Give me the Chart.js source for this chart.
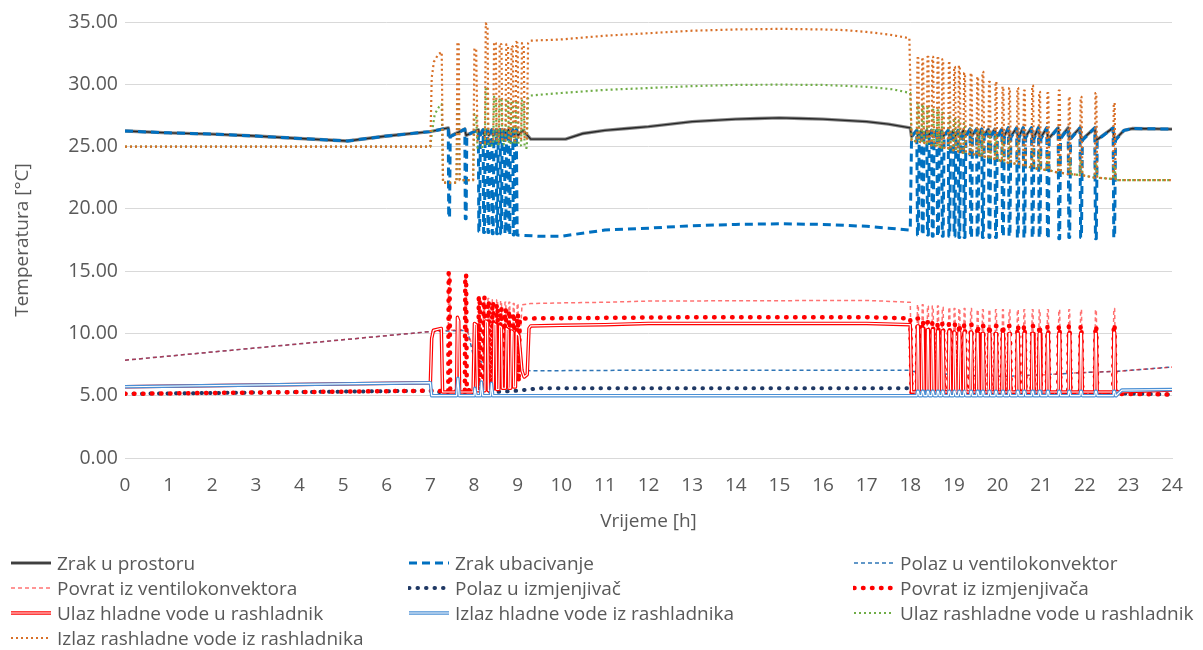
<!DOCTYPE html>
<html><head><meta charset="utf-8">
<script src="https://cdn.jsdelivr.net/npm/chart.js@4.4.1/dist/chart.umd.min.js"></script>
<style>
html,body{margin:0;padding:0;background:#fff;}
#wrap{position:relative;width:1203px;height:650px;font-family:"Open Sans",sans-serif;overflow:hidden;}
#cw{position:absolute;left:0;top:0;width:1203px;height:540px;}
#legend{position:absolute;left:0;top:0;width:1203px;height:650px;pointer-events:none;}
.li{position:absolute;display:flex;align-items:center;height:24px;color:#595959;font-size:19px;white-space:nowrap;}
.li svg{margin-right:5px;flex:none;}
</style></head><body>
<div id="wrap"><div id="cw"><canvas id="c"></canvas></div><div id="legend"></div></div>
<script>
// ---------------- DATA ----------------
const seriesNames = [
  'Zrak u prostoru','Zrak ubacivanje','Polaz u ventilokonvektor',
  'Povrat iz ventilokonvektora','Polaz u izmjenjivač','Povrat iz izmjenjivača',
  'Ulaz hladne vode u rashladnik','Izlaz hladne vode iz rashladnika','Ulaz rashladne vode u rashladnik',
  'Izlaz rashladne vode iz rashladnika'];
const xTicks = [0,1,2,3,4,5,6,7,8,9,10,11,12,13,14,15,16,17,18,19,20,21,22,23,24];
const yTicks = [0,5,10,15,20,25,30,35];

// night (0-7 h)
const roomAirNight = [[0,26.25],[1,26.1],[2,26.0],[3,25.85],[4,25.65],[5.1,25.45],[6,25.85],[7,26.2]];
// morning fan-coil pulses
const mornFC = [7.41,7.79,8.10,8.21,8.31,8.41,8.51,8.60,8.70,8.79,8.89,8.98];
const mornRoomTop = [26.5,26.4,26.35,26.35,26.35,26.35,26.35,26.35,26.35,26.35,26.35,26.35];
const mornRoomBot = [25.8,25.9,25.9,25.9,25.9,25.9,25.9,25.9,25.9,25.9,25.9,25.9];
const mornSupplyLow = [19.3,19.2,18.2,18.1,18.1,18.0,18.0,18.0,18.0,17.9,17.9,17.9];
const mornRetFCPeak = [14.85,14.7,12.95,12.9,12.8,12.7,12.7,12.6,12.5,12.5,12.4,12.4];
const mornRetFCBase = [10.25,10.3,7.6,7.4,7.3,7.2,7.2,7.1,7.1,7.0,7.0,7.0];
const mornRetHXPeak = [14.85,14.7,12.95,12.9,12.6,12.5,12.3,12.0,11.9,11.8,11.6,11.5];
const mornRetHXBase = [5.35,5.4,5.6,5.7,5.8,5.8,5.9,5.9,6.0,6.0,6.1,6.1];
// day plateau (compressor running)
const roomAirDay = [[9.12,26.3],[9.3,25.6],[10.1,25.6],[10.5,26.05],[11,26.3],[11.5,26.45],[12,26.6],[12.5,26.8],[13,27.0],[13.5,27.1],[14,27.2],[14.5,27.25],[15,27.3],[15.5,27.25],[16,27.2],[16.5,27.1],[17,27.0],[17.5,26.8],[18.0,26.5],[18.03,25.8]];
const supplyDay = [[9.5,17.8],[10.0,17.8],[10.3,17.95],[11,18.3],[12,18.45],[13,18.65],[14,18.75],[15,18.8],[16,18.75],[17,18.6],[17.5,18.45],[18.0,18.3],[18.03,25.8]];
const supFCPts = [[0,7.85],[7.0,10.15],[7.85,10.25],[8.0,8.0],[8.3,7.5],[8.6,7.3],[9.0,7.1],[9.3,7.0],[12,7.05],[18,7.05],[18.03,6.95]];
const retFCDay = [[9.1,12.3],[9.3,12.4],[10,12.45],[11,12.5],[12,12.6],[17,12.65],[18,12.5],[18.03,6.95]];
const supHXPts = [[0,5.15],[7,5.4],[7.05,5.3],[8.5,5.3],[9.0,5.4],[9.5,5.6],[18,5.6],[18.03,5.3],[22.7,5.2],[24,5.1]];
const retHXNight = [[0,5.15],[7,5.4]];
const retHXDay = [[9.05,11.2],[11,11.25],[13,11.3],[17,11.3],[18,11.2],[18.03,5.2]];
const chwInMorn = [[0,5.72],[7.0,6.05],[7.03,9.6],[7.07,10.25],[7.25,10.4],[7.28,5.3],[7.6,5.3],[7.62,11.3],[7.65,11.0],[7.67,5.3],[7.98,5.3],[8.01,10.8],[8.05,10.7],[8.08,5.4],[8.25,5.4],[8.27,11.0],[8.31,10.9],[8.33,5.4],[8.44,5.5],[8.46,10.8],[8.5,10.7],[8.52,5.5],[8.57,5.5],[8.59,10.6],[8.63,10.5],[8.65,5.6],[8.72,5.6],[8.74,10.4],[8.78,10.3],[8.8,5.6],[8.84,5.6],[8.86,10.2],[8.89,10.1],[8.91,5.7],[8.95,5.7],[8.97,10.1],[9.03,9.8],[9.1,7.0],[9.15,6.5],[9.22,6.7],[9.26,10.4],[9.3,10.6],[10,10.65],[11,10.7],[12,10.8],[17,10.8],[18,10.7],[18.03,5.3]];
const chwOutMorn = [[0,5.72],[7.0,6.05],[7.03,5.0],[7.6,5.0],[7.63,6.4],[7.66,5.0],[8.0,5.0],[8.02,5.6],[8.05,5.0],[8.15,5.0],[8.17,6.1],[8.2,5.0],[8.38,5.0],[8.4,6.0],[8.43,5.0],[9.3,5.0],[18,5.0]];
const condInMorn = [[0,25.0],[7.0,25.0],[7.03,26.0],[7.1,27.6],[7.2,28.2],[7.26,28.4],[7.29,22.1],[7.6,22.1],[7.62,28.6],[7.65,28.4],[7.67,22.3],[7.98,22.3],[8.01,27.6],[8.05,27.5],[8.08,24.9],[8.25,25.0],[8.27,29.8],[8.31,29.6],[8.33,25.1],[8.44,25.1],[8.46,29.0],[8.5,28.9],[8.52,25.2],[8.57,25.2],[8.59,28.9],[8.63,28.8],[8.65,25.2],[8.72,25.2],[8.74,28.8],[8.78,28.7],[8.8,25.2],[8.84,25.2],[8.86,28.7],[8.89,28.6],[8.91,25.2],[8.95,25.2],[8.97,28.7],[9.0,28.6],[9.02,25.1],[9.08,25.1],[9.1,28.7],[9.14,28.6],[9.16,24.9],[9.21,24.9],[9.24,28.9],[9.3,29.1],[10,29.3],[11,29.55],[12,29.7],[13,29.85],[14,29.95],[15,29.97],[16,29.95],[17,29.8],[17.6,29.6],[18.0,29.3],[18.03,25.5]];
const condOutMorn = [[0,25.0],[7.0,25.0],[7.03,30.5],[7.08,31.8],[7.18,32.4],[7.26,32.6],[7.29,22.1],[7.6,22.1],[7.62,33.4],[7.65,33.2],[7.67,22.3],[7.98,22.3],[8.01,32.9],[8.05,32.8],[8.08,25.3],[8.25,25.3],[8.27,34.9],[8.31,34.6],[8.33,25.4],[8.44,25.4],[8.46,33.4],[8.5,33.3],[8.52,25.4],[8.57,25.4],[8.59,33.3],[8.63,33.2],[8.65,25.5],[8.72,25.5],[8.74,33.2],[8.78,33.1],[8.8,25.5],[8.84,25.5],[8.86,33.1],[8.89,33.0],[8.91,25.5],[8.95,25.5],[8.97,33.4],[9.0,33.3],[9.02,25.6],[9.08,25.6],[9.1,33.3],[9.14,33.2],[9.16,25.6],[9.21,25.6],[9.24,33.3],[9.3,33.5],[10,33.6],[11,33.9],[12,34.1],[13,34.3],[14,34.4],[15,34.45],[16,34.4],[16.5,34.35],[17,34.2],[17.5,34.0],[17.98,33.7],[18.03,25.5]];
// evening cycling (18-22.7 h)
const eveCycles = [18.15,18.26,18.38,18.49,18.61,18.72,18.87,18.99,19.10,19.22,19.37,19.52,19.64,19.79,19.94,20.10,20.25,20.44,20.59,20.78,20.94,21.13,21.39,21.62,21.89,22.23,22.65];
const eveRoomTop = [26.3,26.3,26.3,26.3,26.3,26.3,26.3,26.3,26.3,26.3,26.4,26.4,26.4,26.4,26.4,26.4,26.5,26.5,26.5,26.5,26.5,26.5,26.5,26.5,26.5,26.5,26.5];
const eveRoomBot = [25.8,25.8,25.8,25.8,25.8,25.8,25.8,25.8,25.8,25.8,25.8,25.8,25.8,25.8,25.7,25.7,25.7,25.7,25.7,25.6,25.6,25.6,25.6,25.6,25.5,25.5,25.5];
const eveSupplyLow = [17.9,17.9,17.9,17.8,17.8,17.8,17.8,17.8,17.7,17.7,17.7,17.7,17.7,17.7,17.7,17.8,17.8,17.7,17.7,17.7,17.7,17.6,17.6,17.7,17.7,17.6,17.7];
const eveFCBase = [6.95,6.9,6.85,6.8,6.78,6.75,6.72,6.7,6.68,6.65,6.62,6.6,6.6,6.58,6.56,6.55,6.57,6.6,6.62,6.65,6.67,6.7,6.75,6.8,6.85,6.9,6.95];
const eveSupFCDip = [5.6];
const eveRetFCPeak = [12.3,12.3,12.2,12.2,12.2,12.1,12.1,12.0,12.0,12.0,12.0,11.9,11.9,11.9,11.9,11.9,11.9,11.9,11.9,11.9,11.9,11.9,11.9,11.9,11.9,11.9,12.0];
const eveRetHXBase = [5.2];
const eveRetHXPeak = [11.2,11.0,10.9,10.9,10.8,10.8,10.8,10.7,10.7,10.7,10.7,10.6,10.6,10.6,10.6,10.6,10.6,10.6,10.6,10.6,10.6,10.6,10.6,10.6,10.6,10.6,10.7];
const eveChwInBase = [5.3];
const eveChwInPeak = [10.6,10.4,10.3,10.3,10.2,10.2,10.2,10.1,10.1,10.1,10.1,10.0,10.0,10.0,10.0,10.0,10.0,10.0,10.0,10.0,10.0,10.0,10.0,10.0,10.0,10.0,10.1];
const eveChwOutBase = [5.0];
const eveChwOutBump = [5.35];
const eveCondBase = [25.4,25.3,25.2,25.1,25.0,24.9,24.8,24.7,24.6,24.5,24.4,24.3,24.2,24.1,24.0,23.8,23.7,23.6,23.5,23.3,23.2,23.1,22.9,22.8,22.7,22.5,22.4];
const eveCondInPeak = [28.5,28.4,28.3,28.1,27.9,27.7,27.5,27.3,27.1,26.9,26.7,26.5,26.3,26.1,25.9,25.7,25.5,25.3,25.1,24.9,24.7,24.5,24.3,24.1,23.9,23.7,23.5];
const eveCondOutPeak = [32.1,32.0,32.2,32.2,32.1,32.0,31.7,31.4,31.5,30.9,30.9,30.6,31.0,30.2,30.2,29.8,29.7,29.7,29.5,29.9,29.4,29.3,29.5,29.0,29.0,29.3,28.5];
// after switch-off (22.7-24 h)
const roomAirTail = [[22.9,26.3],[23.1,26.45],[24,26.4]];
const fcTail = [[22.72,6.95],[24,7.3]];
const retHXTail = [[22.72,5.15],[24,5.1]];
const chwInTail = [[22.72,5.3],[24,5.45]];
const chwOutTail = [[22.72,5.0],[22.85,5.45],[24,5.5]];
const condTail = [[22.72,22.3],[24,22.3]];

// ---------------- BUILDERS ----------------
const val = (a,i) => a.length === 1 ? a[0] : a[i];
function pulses(times, base, peak, r, h, f){
  const o=[]; times.forEach((t,i)=>{const b=val(base,i),p=val(peak,i);o.push([t,b],[t+r,p],[t+r+h,p],[t+r+h+f,b]);}); return o;
}
function saw(times, top, bot, d){
  const o=[]; times.forEach((t,i)=>{o.push([t,top[i]],[t+d,bot[i]]);}); return o;
}
function dips(times, top, low, bot, r, h, f){
  const o=[]; times.forEach((t,i)=>{o.push([t,top[i]],[t+r,low[i]],[t+r+h,low[i]],[t+r+h+f,bot[i]]);}); return o;
}
const M = [0.01,0.02,0.015], E = [0.015,0.02,0.02];
const n11 = 11;

const sRoom = [...roomAirNight, ...saw(mornFC, mornRoomTop, mornRoomBot, 0.03), ...roomAirDay,
  ...saw(eveCycles, eveRoomTop, eveRoomBot, 0.03), ...roomAirTail];
const sSupply = [...roomAirNight,
  ...dips(mornFC.slice(0,n11), mornRoomTop, mornSupplyLow, mornRoomBot, ...M),
  [mornFC[n11]-0.01, mornRoomTop[n11]], [mornFC[n11]+0.01, mornSupplyLow[n11]], ...supplyDay,
  ...dips(eveCycles, eveRoomTop, eveSupplyLow, eveRoomBot, ...E), ...roomAirTail];
const sSupFC = [...supFCPts, ...pulses(eveCycles, eveFCBase, eveSupFCDip, ...E), ...fcTail];
const sRetFC = [[0,7.85],[7.0,10.15], ...pulses(mornFC, mornRetFCBase, mornRetFCPeak, ...M), ...retFCDay,
  ...pulses(eveCycles, eveFCBase, eveRetFCPeak, ...E), ...fcTail];
const sSupHX = supHXPts;
const sRetHX = [...retHXNight, ...pulses(mornFC, mornRetHXBase, mornRetHXPeak, ...M), ...retHXDay,
  ...pulses(eveCycles, eveRetHXBase, eveRetHXPeak, ...E), ...retHXTail];
const sChwIn = [...chwInMorn, ...pulses(eveCycles, eveChwInBase, eveChwInPeak, ...E), ...chwInTail];
const sChwOut = [...chwOutMorn, ...pulses(eveCycles, eveChwOutBase, eveChwOutBump, ...E), ...chwOutTail];
const sCondIn = [...condInMorn, ...pulses(eveCycles, eveCondBase, eveCondInPeak, ...E), ...condTail];
const sCondOut = [...condOutMorn, ...pulses(eveCycles, eveCondBase, eveCondOutPeak, ...E), ...condTail];

const seriesData = [sRoom,sSupply,sSupFC,sRetFC,sSupHX,sRetHX,sChwIn,sChwOut,sCondIn,sCondOut];

// ---------------- STYLES ----------------
const styles = [
  {c:'#8a8a8a', w:3.4, dash:[], inner:'#262626', iw:1.4},
  {c:'#0070c0', w:3, dash:[8,5]},
  {c:'#2e75b6', w:1.5, dash:[4,3]},
  {c:'rgba(255,20,20,0.6)', w:1.5, dash:[4,3]},
  {c:'#1f3864', w:4, dash:[0.5,8], cap:'round'},
  {c:'#ff0000', w:4.5, dash:[0.5,8.5], cap:'round'},
  {c:'#ff0000', w:3.5, dash:[], inner:'#ffffff', iw:1.2},
  {c:'#4a8fd4', w:3.5, dash:[], inner:'#ffffff', iw:1.2},
  {c:'#70ad47', w:2.2, dash:[2,3]},
  {c:'#d86f27', w:2.2, dash:[2,3]}
];

const FONT = '"Open Sans", sans-serif';
const N = seriesNames.length;
const datasets = seriesNames.map((name,i)=>({
  label:name,
  data: seriesData[i].map(([x,y])=>({x,y})),
  borderColor: styles[i].c, borderWidth: styles[i].w, borderDash: styles[i].dash,
  borderCapStyle: styles[i].cap || 'butt', borderJoinStyle:'round',
  pointRadius:0, tension:0, fill:false,
  order: N-1-i,
  innerColor: styles[i].inner, innerWidth: styles[i].iw
}));

const doubleLine = {
  id:'doubleLine',
  afterDatasetDraw(chart, args){
    const ds = chart.data.datasets[args.index];
    if(!ds.innerColor) return;
    const ctx = chart.ctx, a = chart.chartArea, pts = args.meta.data;
    ctx.save();
    ctx.beginPath(); ctx.rect(a.left, a.top-5, a.right-a.left, a.bottom-a.top+10); ctx.clip();
    ctx.beginPath();
    pts.forEach((p,k)=>{ k ? ctx.lineTo(p.x,p.y) : ctx.moveTo(p.x,p.y); });
    ctx.strokeStyle = ds.innerColor; ctx.lineWidth = ds.innerWidth; ctx.lineJoin='round'; ctx.setLineDash([]);
    ctx.stroke();
    ctx.restore();
  }
};

new Chart(document.getElementById('c'), {
  type:'line',
  data:{datasets},
  plugins:[doubleLine],
  options:{
    responsive:true, maintainAspectRatio:false, animation:false,
    layout:{padding:{left:0,right:31,top:22,bottom:0}},
    plugins:{legend:{display:false}, tooltip:{enabled:false}},
    scales:{
      x:{type:'linear', min:0, max:24,
        grid:{display:false, drawTicks:false},
        border:{display:true, color:'#d9d9d9', width:1},
        ticks:{color:'#595959', font:{family:FONT,size:19}, padding:16, maxRotation:0, autoSkip:false},
        afterBuildTicks:s=>{ s.ticks = xTicks.map(v=>({value:v})); },
        afterFit:s=>{ s.height = 82; },
        title:{display:true, text:'Vrijeme [h]', color:'#595959', font:{family:FONT,size:19}, padding:{top:0,bottom:7}}
      },
      y:{type:'linear', min:0, max:35,
        grid:{color:'#d9d9d9', drawTicks:false},
        border:{display:false},
        ticks:{color:'#595959', font:{family:FONT,size:19.5}, padding:7, callback:v=>Number(v).toFixed(2)},
        afterBuildTicks:s=>{ s.ticks = yTicks.map(v=>({value:v})); },
        afterFit:s=>{ s.width = 125; },
        title:{display:true, text:'Temperatura [°C]', color:'#595959', font:{family:FONT,size:19}, padding:{top:11,bottom:0}}
      }
    }
  }
});

// ---------------- HTML LEGEND ----------------
const legendCols = [10, 408, 853];
const legendRows = [563, 588, 613, 638];
const lg = document.getElementById('legend');
seriesNames.forEach((name,i)=>{
  const s = styles[i];
  const col = i % 3, row = Math.floor(i/3);
  const d = document.createElement('div');
  d.className='li';
  d.style.left = legendCols[col]+'px';
  d.style.top = (legendRows[row]-12)+'px';
  const W = 42, H = 10;
  let svg = `<svg width="${W}" height="${H}" viewBox="0 0 ${W} ${H}">`;
  svg += `<line x1="1" y1="5" x2="${W-1}" y2="5" stroke="${s.c}" stroke-width="${s.w}" stroke-dasharray="${s.dash.length?s.dash.join(' '):'none'}" stroke-linecap="${s.cap||'butt'}"/>`;
  if(s.inner) svg += `<line x1="1" y1="5" x2="${W-1}" y2="5" stroke="${s.inner}" stroke-width="${s.iw}"/>`;
  svg += `</svg>`;
  d.innerHTML = svg + `<span>${name}</span>`;
  lg.appendChild(d);
});
</script>
</body></html>
